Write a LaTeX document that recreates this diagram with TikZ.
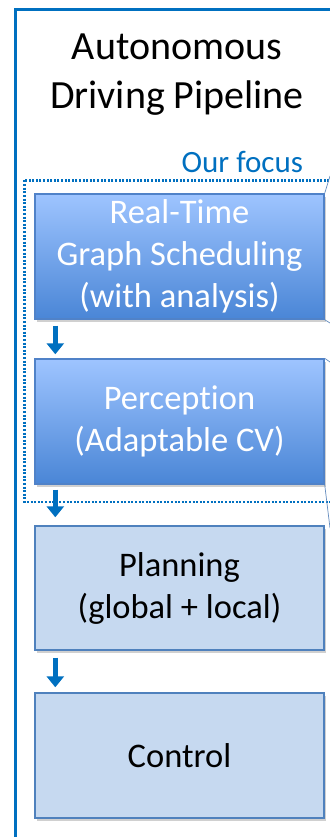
\documentclass[tikz,border=0pt]{standalone}
\usepackage{fontspec}
\setmainfont{Carlito}[RawFeature={-liga}]
\usetikzlibrary{arrows.meta,shadows}
\definecolor{frameblue}{RGB}{0,112,192}
\definecolor{gradtop}{RGB}{158,196,255}
\definecolor{gradbot}{RGB}{74,134,214}
\definecolor{gradedge}{RGB}{80,130,200}
\definecolor{lightfill}{RGB}{198,217,240}
\definecolor{lightedge}{RGB}{79,129,189}
\definecolor{calloutline}{RGB}{100,140,190}
\begin{document}
\begin{tikzpicture}[x=1pt,y=-1pt,
  boxbase/.style={rectangle, minimum width=289pt, inner sep=0pt, align=center,
    font=\fontsize{34.5}{42}\selectfont, line width=1.4pt,
    drop shadow={shadow xshift=1.5pt, shadow yshift=-2.5pt, opacity=0.3, fill=black!60}},
  darkbox/.style={boxbase, draw=gradedge, top color=gradtop, bottom color=gradbot, text=white},
  lightbox/.style={boxbase, draw=lightedge, fill=lightfill, text=black},
  flowarrow/.style={draw=frameblue, line width=5.5pt, -{Triangle[length=11pt,width=17pt]}},
  callout/.style={draw=calloutline, line width=0.7pt}]
\useasboundingbox (0,0) rectangle (329,837);
\fill[white] (0,0) rectangle (329,837);
% outer frame
\coordinate (fbl) at (15.5,845);
\coordinate (ftl) at (15.5,9.5);
\coordinate (ftr) at (340,9.5);
\draw[frameblue, line width=2.6pt] (fbl) -- (ftl) -- (ftr);
% title
\node[font=\fontsize{40}{49}\selectfont, align=center, text=black] (title) at (177,75) {Autonomous\\Driving Pipeline};
% focus region
\coordinate (fa) at (24.5,180.5);
\coordinate (fb) at (345,502);
\draw[frameblue, line width=2.2pt, dash pattern=on 2pt off 1.6pt] (fa) rectangle (fb);
\node[font=\fontsize{31}{37}\selectfont, text=frameblue, anchor=base east] (focus) at (306.5,172) {Our focus};
% boxes
\node[darkbox, minimum height=125pt] (rt) at (179.5,256.5) {Real-Time\\Graph Scheduling\\(with analysis)};
\node[darkbox, minimum height=125pt] (per) at (179.5,421.5) {Perception\\(Adaptable CV)};
\node[lightbox, minimum height=124pt] (plan) at (179.5,588) {Planning\\(global + local)};
\node[lightbox, minimum height=125pt] (ctrl) at (179.5,755.5) {Control};
% callout remnants
\coordinate (c1) at (330,176);
\coordinate (c2) at (330,323);
\coordinate (c3) at (330,362);
\coordinate (c4) at (330,528);
\draw[callout] (rt.north east) -- (c1);
\draw[callout] (rt.south east) -- (c2);
\draw[callout] (per.north east) -- (c3);
\draw[callout] (per.south east) -- (c4);
% arrows
\draw[flowarrow] ([xshift=21pt,yshift=-6pt]rt.south west) -- ([xshift=21pt,yshift=4pt]per.north west);
\draw[flowarrow] ([xshift=21pt,yshift=-5pt]per.south west) -- ([xshift=21pt,yshift=8pt]plan.north west);
\draw[flowarrow] ([xshift=21pt,yshift=-7pt]plan.south west) -- ([xshift=21pt,yshift=5pt]ctrl.north west);
\end{tikzpicture}
\end{document}
